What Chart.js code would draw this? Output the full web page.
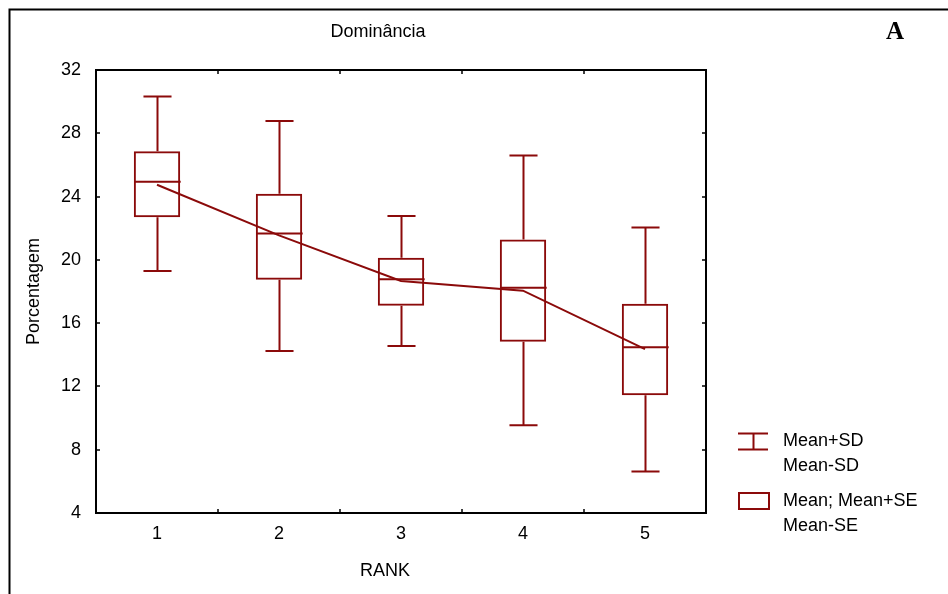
<!DOCTYPE html>
<html>
<head>
<meta charset="utf-8">
<script src="https://cdn.jsdelivr.net/npm/chart.js@4.4.1/dist/chart.umd.min.js"></script>
<style>
  html, body { margin: 0; padding: 0; background: #fff; }
  #wrap { position: relative; width: 948px; height: 594px; }
</style>
</head>
<body>
<div id="wrap"><canvas id="chart" width="948" height="594"></canvas></div>
<script>
// --- Дані ---
const ranks = ['1', '2', '3', '4', '5'];
const means = [24.94, 21.66, 18.78, 18.24, 14.47];
const seHigh = [26.86, 24.18, 20.14, 21.28, 17.23];
const seLow = [22.70, 18.75, 17.10, 14.82, 11.45];
const sdHigh = [30.32, 28.78, 22.77, 26.59, 22.04];
const sdLow = [19.30, 14.24, 14.55, 9.55, 6.62];
const trendLine = [24.75, 21.55, 18.67, 18.05, 14.36];
const yTicks = [4, 8, 12, 16, 20, 24, 28, 32];

const RED = '#8b0a0a';
const FONT = '"Liberation Sans", Arial, sans-serif';

// вуса (Mean±SD) і лінія середнього в боксі
const boxExtras = {
    id: 'boxExtras',
    beforeDatasetsDraw(chart) {
        const { ctx, scales: { x, y } } = chart;
        const cat = x.getPixelForValue(1) - x.getPixelForValue(0);
        const capHalf = cat * 0.115;
        const boxHalf = cat * 0.19;
        ctx.save();
        ctx.strokeStyle = RED;
        ctx.lineWidth = 2;
        ranks.forEach((r, i) => {
            const cx = Math.round(x.getPixelForValue(i)) + 0.5;
            const pTop = y.getPixelForValue(sdHigh[i]);
            const pBot = y.getPixelForValue(sdLow[i]);
            ctx.beginPath();
            ctx.moveTo(cx, pTop); ctx.lineTo(cx, y.getPixelForValue(seHigh[i]));
            ctx.moveTo(cx, y.getPixelForValue(seLow[i])); ctx.lineTo(cx, pBot);
            ctx.moveTo(cx - capHalf, pTop); ctx.lineTo(cx + capHalf, pTop);
            ctx.moveTo(cx - capHalf, pBot); ctx.lineTo(cx + capHalf, pBot);
            const pm = y.getPixelForValue(means[i]);
            ctx.moveTo(cx - boxHalf, pm); ctx.lineTo(cx + boxHalf, pm);
            ctx.stroke();
        });
        ctx.restore();
    },
    afterDraw(chart) {
        const { ctx, chartArea: a, scales: { x, y } } = chart;
        ctx.save();
        // зовнішня рамка
        ctx.strokeStyle = '#000';
        ctx.lineWidth = 2;
        ctx.beginPath();
        ctx.moveTo(9.5, 600); ctx.lineTo(9.5, 9.5); ctx.lineTo(960, 9.5);
        ctx.stroke();
        // рамка графіка
        ctx.lineWidth = 2;
        ctx.strokeRect(a.left, a.top, a.right - a.left, a.bottom - a.top);
        // внутрішні риски
        ctx.lineWidth = 1.5;
        ctx.beginPath();
        yTicks.forEach(v => {
            const py = Math.round(y.getPixelForValue(v));
            ctx.moveTo(a.left, py); ctx.lineTo(a.left + 4, py);
            ctx.moveTo(a.right, py); ctx.lineTo(a.right - 4, py);
        });
        for (let i = 0; i < ranks.length - 1; i++) {
            const px = Math.round(x.getPixelForValue(i + 0.5));
            ctx.moveTo(px, a.top); ctx.lineTo(px, a.top + 4);
            ctx.moveTo(px, a.bottom); ctx.lineTo(px, a.bottom - 4);
        }
        ctx.stroke();

        // заголовок, підпис осі X та літера
        ctx.fillStyle = '#000';
        ctx.textAlign = 'center';
        ctx.textBaseline = 'middle';
        ctx.font = '18px ' + FONT;
        ctx.fillText('Dominância', 378, 32);
        ctx.fillText('RANK', 385, 571);
        ctx.font = 'bold 25px "Liberation Serif", "Times New Roman", serif';
        ctx.fillText('A', 895, 33);

        // легенда
        ctx.strokeStyle = RED;
        ctx.lineWidth = 2;
        ctx.beginPath();
        ctx.moveTo(738, 433.5); ctx.lineTo(768, 433.5);
        ctx.moveTo(738, 449.5); ctx.lineTo(768, 449.5);
        ctx.moveTo(753.5, 433.5); ctx.lineTo(753.5, 449.5);
        ctx.stroke();
        ctx.strokeRect(739, 493, 30, 16);
        ctx.textAlign = 'left';
        ctx.font = '18px ' + FONT;
        ctx.fillText('Mean+SD', 783, 441);
        ctx.fillText('Mean-SD', 783, 466);
        ctx.fillText('Mean; Mean+SE', 783, 501);
        ctx.fillText('Mean-SE', 783, 526);
        ctx.restore();
    }
};

const boxData = ranks.map((r, i) => [seLow[i], seHigh[i]]);

new Chart(document.getElementById('chart'), {
    type: 'bar',
    data: {
        labels: ranks,
        datasets: [
            { type: 'line', data: trendLine, borderColor: RED, borderWidth: 2, pointRadius: 0, tension: 0, fill: false, order: 0 },
            { data: boxData, backgroundColor: 'rgba(0,0,0,0)', borderColor: RED, borderWidth: 2, borderSkipped: false,
              categoryPercentage: 1, barPercentage: 0.38, order: 1 }
        ]
    },
    options: {
        responsive: false,
        animation: false,
        layout: { padding: { top: 70, right: 242, bottom: 0, left: 0 } },
        plugins: { legend: { display: false }, tooltip: { enabled: false }, title: { display: false } },
        scales: {
            x: {
                offset: true,
                grid: { display: false, drawTicks: false },
                border: { display: false },
                ticks: { color: '#000', font: { family: FONT, size: 18 }, padding: 10 },
                afterFit: s => { s.height = 81; }
            },
            y: {
                min: 4, max: 32,
                grid: { display: false, drawTicks: false },
                border: { display: false },
                ticks: { stepSize: 4, color: '#000', font: { family: FONT, size: 18 }, padding: 15 },
                title: { display: true, text: 'Porcentagem', color: '#000', font: { family: FONT, size: 18 }, padding: { top: 23, bottom: 0 } },
                afterFit: s => { s.width = 96; }
            }
        }
    },
    plugins: [boxExtras]
});
</script>
</body>
</html>
